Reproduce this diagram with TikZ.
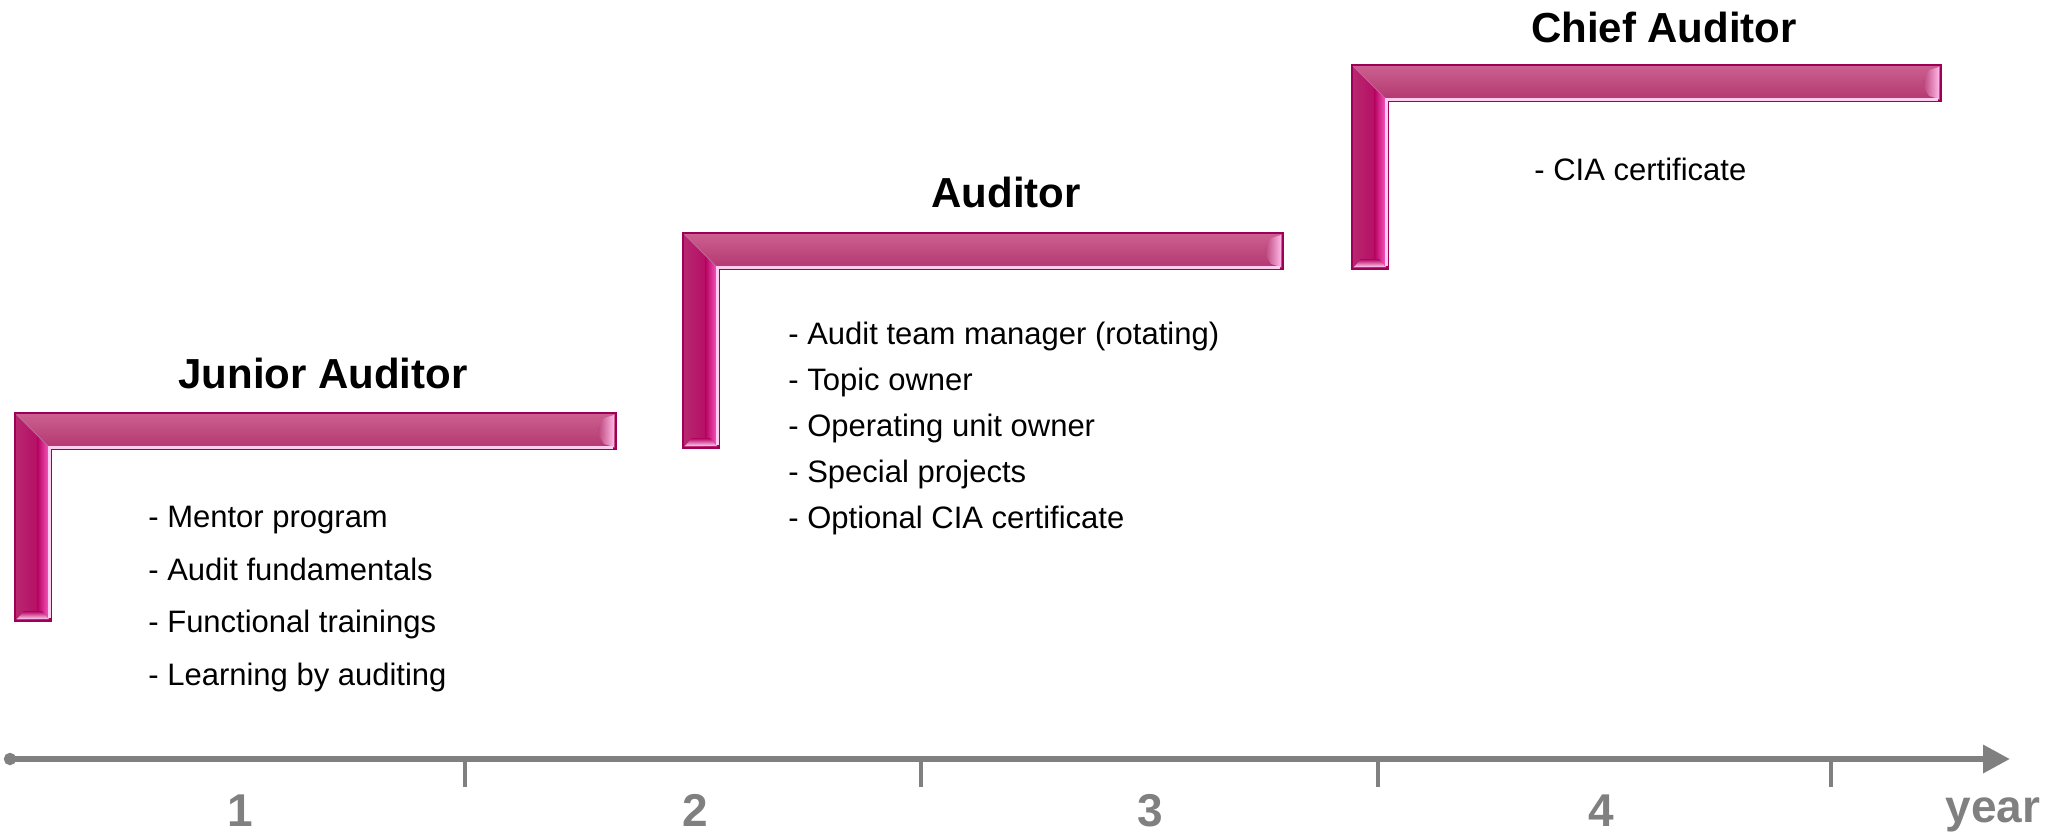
\documentclass[tikz,border=0pt]{standalone}
\usepackage{fontspec}
\setmainfont{Liberation Sans}
\usetikzlibrary{arrows.meta}
\definecolor{stepdark}{RGB}{158,0,88}
\definecolor{steptop}{RGB}{204,96,144}
\definecolor{stepface}{RGB}{178,54,110}
\definecolor{stepleft}{RGB}{184,40,112}
\definecolor{stepmid}{RGB}{180,0,94}
\definecolor{stepbright}{RGB}{255,96,200}
\definecolor{stepglint}{RGB}{255,205,242}
\definecolor{axisgray}{RGB}{128,128,128}
\tikzset{
	hface/.style={top color=steptop, bottom color=stepface},
	vface/.style={left color=stepleft, right color=stepmid},
	vshine/.style={left color=stepmid, right color=stepbright},
	endshine/.style={left color=stepface, right color=stepbright!45!white},
	footshine/.style={top color=stepmid, bottom color=stepglint},
	glint/.style={draw=stepglint, line width=1.5pt},
	rim/.style={draw=stepdark, line width=0.6pt, line join=miter},
	seam/.style={draw=stepdark!60, line width=0.4pt},
	roletitle/.style={font=\fontsize{21pt}{25pt}\selectfont\bfseries, inner sep=0pt},
	duties/.style={font=\fontsize{15.5pt}{26.2pt}\selectfont, align=left, inner sep=0pt},
	timeaxis/.style={draw=axisgray, line width=3.2pt, {Circle[length=6pt]}-{Triangle[length=13.5pt,width=13.5pt]}},
	yeartick/.style={draw=axisgray, line width=1.6pt},
	yearlabel/.style={font=\fontsize{23pt}{27pt}\selectfont\bfseries, text=axisgray, inner sep=0pt}
}
% #1,#2 outer corner, #3 right end, #4 foot
\newcommand{\careerstep}[4]{%
	\shade[hface] (#1,#2) -- (#3,#2) -- (#3,#2+36) -- (#1+36,#2+36) -- cycle;
	\shade[vface] (#1,#2) -- (#1+36,#2+36) -- (#1+36,#4) -- (#1,#4) -- cycle;
	\shade[vshine] (#1+22,#2+22) -- (#1+35,#2+35) -- (#1+35,#4-4) -- (#1+22,#4-4) -- cycle;
	\shade[endshine] (#3-12,#2+5) .. controls (#3-20,#2+18) .. (#3-12,#2+31) -- (#3-2,#2+34) -- (#3-2,#2+2) -- cycle;
	\shade[footshine] (#1+9,#4-10) -- (#1+27,#4-10) -- (#1+34,#4-2) -- (#1+2,#4-2) -- cycle;
	\draw[seam] (#1,#2) -- (#1+36,#2+36);
	\draw[rim] (#1,#4) -- (#1,#2) -- (#3,#2) -- (#3,#2+36) -- (#1+36,#2+36) -- (#1+36,#4) -- cycle;
	\draw[glint] (#1+34,#4-3) -- (#1+34,#2+34) -- (#3-3,#2+34);
}

\begin{document}
\begin{tikzpicture}[x=0.5pt, y=-0.5pt]
	\useasboundingbox (0,0) rectangle (2070,836);

	\careerstep{15}{413}{616}{621}
	\careerstep{683}{233}{1283}{448}
	\careerstep{1352}{65}{1941}{269}

	\node[roletitle, anchor=base] (junior) at (323,388) {Junior Auditor};
	\node[roletitle, anchor=base] (auditor) at (1006,207) {Auditor};
	\node[roletitle, anchor=base] (chief) at (1664,42) {Chief Auditor};

	% base anchor sits on the last line
	\node[duties, anchor=base west] (juniorduties) at (148,685) {- Mentor program\\- Audit fundamentals\\- Functional trainings\\- Learning by auditing};
	\node[duties, font=\fontsize{15.5pt}{22.9pt}\selectfont, anchor=base west] (auditorduties) at (788,528) {- Audit team manager (rotating)\\- Topic owner\\- Operating unit owner\\- Special projects\\- Optional CIA certificate};
	\node[duties, anchor=base west] (chiefduties) at (1534,180) {- CIA certificate};

	\coordinate (axisstart) at (4,759);
	\coordinate (axisend) at (2010,759);
	\draw[timeaxis] (axisstart) -- (axisend);
	\foreach \tx in {465,921,1378,1831}
		\draw[yeartick] (\tx,759) -- (\tx,787);
	\foreach \n/\nx in {1/240,2/695,3/1150,4/1601}
		\node[yearlabel, anchor=base] (year\n) at (\nx,826) {\n};
	\node[yearlabel, anchor=base] (yearword) at (1993,822) {year};
\end{tikzpicture}
\end{document}
